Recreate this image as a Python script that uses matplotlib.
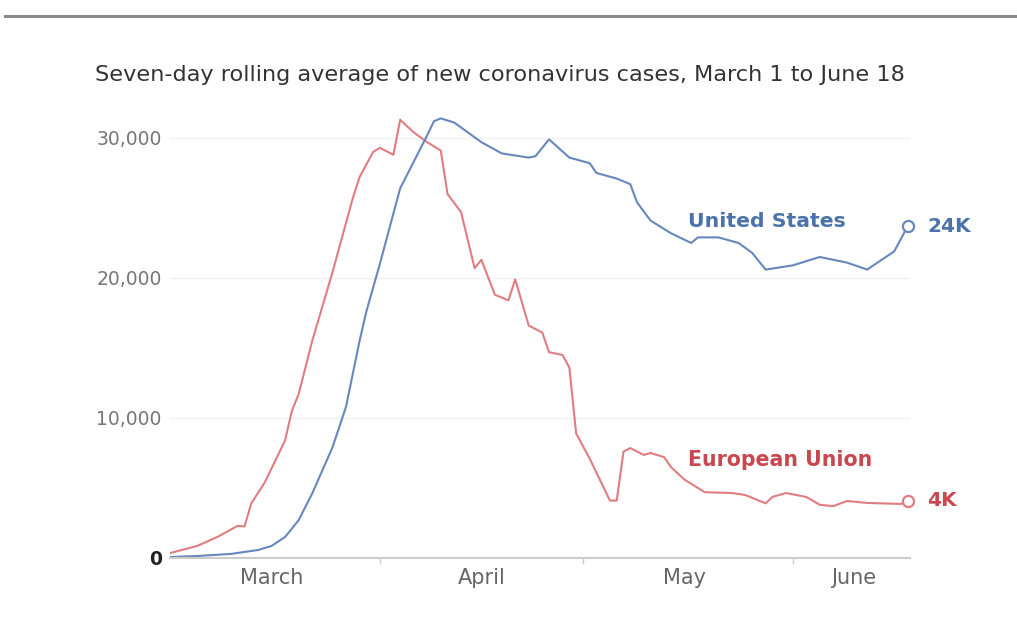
import numpy as np
import matplotlib
matplotlib.use('Agg')
import matplotlib.pyplot as plt
from matplotlib.lines import Line2D

# Seven-day rolling averages, days counted from March 1, 2020
us_days = [0, 4, 9, 13, 15, 17, 19, 21, 24, 26, 28, 29, 31, 34, 36, 38, 39, 40,
           42, 44, 46, 49, 53, 54, 56, 59, 62, 63, 66, 68, 69, 71, 74, 77, 78,
           81, 84, 86, 88, 92, 96, 100, 103, 107, 109]
us_cases = [70, 140, 290, 570, 860, 1500, 2700, 4600, 7900, 10800, 15500, 17600,
            21000, 26400, 28300, 30200, 31200, 31400, 31100, 30400, 29700, 28900,
            28600, 28700, 29900, 28600, 28200, 27500, 27100, 26700, 25400, 24100,
            23200, 22500, 22900, 22900, 22500, 21800, 20600, 20900, 21500, 21100,
            20600, 21900, 23700]

eu_days = [0, 4, 7, 10, 11, 12, 14, 17, 18, 19, 21, 24, 27, 28, 30, 31, 33, 34,
           36, 38, 40, 41, 43, 45, 46, 48, 50, 51, 53, 55, 56, 58, 59, 60, 62,
           65, 66, 67, 68, 70, 71, 73, 74, 76, 79, 83, 85, 88, 89, 91, 94, 96,
           98, 100, 103, 108, 109]
eu_cases = [350, 860, 1500, 2300, 2250, 3900, 5400, 8400, 10500, 11700, 15500,
            20400, 25700, 27200, 29000, 29300, 28800, 31300, 30400, 29700, 29100,
            26000, 24700, 20700, 21300, 18800, 18400, 19900, 16600, 16100, 14700,
            14500, 13600, 8900, 7100, 4100, 4100, 7600, 7850, 7360, 7500, 7200,
            6500, 5600, 4700, 4640, 4500, 3900, 4360, 4640, 4360, 3800, 3700,
            4070, 3930, 3860, 4100]

y_ticks = [0, 10000, 20000, 30000]
y_labels = ['0', '10,000', '20,000', '30,000']
month_names = ['March', 'April', 'May', 'June']
month_label_dates = ['2020-03-16', '2020-04-16', '2020-05-16', '2020-06-10']
month_starts = ['2020-04-01', '2020-05-01', '2020-06-01']

start = np.datetime64('2020-03-01')
us_dates = start + np.array(us_days)
eu_dates = start + np.array(eu_days)

US_LINE = '#6887bb'
US_TEXT = '#4c72aa'
EU_LINE = '#e07d81'
EU_TEXT = '#c9474f'

plt.rcParams['font.family'] = ['DejaVu Sans']

fig = plt.figure(figsize=(10.17, 6.35), dpi=100)
ax = fig.add_axes([0.1672, 0.1213, 0.7276, 0.7055])

ax.plot(eu_dates, eu_cases, color=EU_LINE, lw=1.5, solid_joinstyle='round')
ax.plot(us_dates, us_cases, color=US_LINE, lw=1.5, solid_joinstyle='round')

# hollow markers at the latest value
ax.plot(us_dates[-1], us_cases[-1], 'o', ms=8, mfc='white', mec=US_LINE,
        mew=1.6, clip_on=False, zorder=5)
ax.plot(eu_dates[-1], eu_cases[-1], 'o', ms=8, mfc='white', mec=EU_LINE,
        mew=1.6, clip_on=False, zorder=5)

ax.set_xlim(np.datetime64('2020-03-01'), np.datetime64('2020-06-18T08'))
ax.set_ylim(0, 32000)

ax.set_yticks(y_ticks, y_labels)
ax.tick_params(axis='y', length=0, pad=6, labelsize=13.5, labelcolor='#777777')
zero = ax.get_yticklabels()[0]
zero.set_fontweight('bold')
zero.set_color('#222222')
ax.grid(axis='y', color='#f1f1f1', lw=1)
ax.set_axisbelow(True)

ax.set_xticks(np.array(month_starts, dtype='datetime64[D]'))
ax.set_xticklabels([])
ax.set_xticks(np.array(month_label_dates, dtype='datetime64[D]'), minor=True)
ax.set_xticklabels(month_names, minor=True)
ax.tick_params(axis='x', which='major', length=4, color='#cccccc', width=1)
ax.tick_params(axis='x', which='minor', length=0, pad=7, labelsize=15,
               labelcolor='#666666')

for side in ['top', 'right', 'left']:
    ax.spines[side].set_visible(False)
ax.spines['bottom'].set_color('#cccccc')
ax.spines['bottom'].set_linewidth(1.5)

# series names and end values
ax.text(np.datetime64('2020-05-16T12'), 24000, 'United States', color=US_TEXT,
        fontsize=14.7, fontweight='bold', va='center', ha='left')
ax.text(np.datetime64('2020-05-16T12'), 7000, 'European Union', color=EU_TEXT,
        fontsize=14.8, fontweight='bold', va='center', ha='left')
ax.annotate('24K', (us_dates[-1], us_cases[-1]), xytext=(14, 0),
            textcoords='offset points', color=US_TEXT, fontsize=14.5,
            fontweight='bold', va='center', annotation_clip=False)
ax.annotate('4K', (eu_dates[-1], eu_cases[-1]), xytext=(14, 0),
            textcoords='offset points', color=EU_TEXT, fontsize=14.5,
            fontweight='bold', va='center', annotation_clip=False)

fig.text(95 / 1017, 1 - 75 / 635, 'Seven-day rolling average of new coronavirus '
         'cases, March 1 to June 18', fontsize=16.1, color='#333333',
         va='center', ha='left')

# rule across the top of the graphic
fig.add_artist(Line2D([0.005, 1.0], [1 - 16 / 635] * 2, color='#8a8a8a',
                      lw=2.2, transform=fig.transFigure))

fig.savefig('out.png', dpi=100, facecolor='white')
